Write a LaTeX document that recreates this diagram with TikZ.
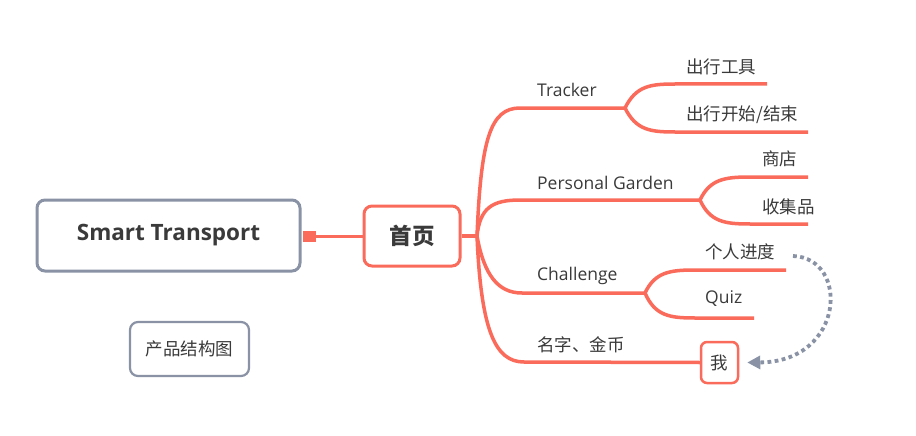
\documentclass[tikz,border=0pt]{standalone}
\usepackage{fontspec}
\setmainfont{Open Sans}
\newfontfamily\cjk{Noto Sans CJK SC}
\usetikzlibrary{arrows.meta}
\definecolor{br}{HTML}{FA6B5B}
\definecolor{gr}{HTML}{8A93A5}
\definecolor{tx}{HTML}{3A3A3A}
\begin{document}
\begin{tikzpicture}[x=1pt,y=-1pt,
  rbox/.style={draw=#1, line width=3, rounded corners=8, fill=white, inner sep=0, text=tx},
  lbl/.style={anchor=west, inner sep=0, text=tx, font=\fontsize{17.5}{20}\selectfont},
  clbl/.style={anchor=west, inner sep=0, text=tx, font=\cjk\fontsize{17.5}{20}\selectfont},
  branch/.style={draw=br, line width=3.5},
  link/.style={draw=gr, line width=3.8, dash pattern=on 3.8pt off 3.4pt, -{Triangle[length=13,width=13]}}]
\path[use as bounding box, fill=white] (0,0) rectangle (916,436);

% main nodes
\node[rbox=gr, minimum width=263, minimum height=71, font=\bfseries\fontsize{22.5}{26}\selectfont] (root) at (168.5,235.5) {Smart Transport};
\node[fill=br, minimum width=13, minimum height=11, inner sep=0] (sq) at (309,236) {};
\node[rbox=br, minimum width=96, minimum height=60, font=\cjk\bfseries\fontsize{22.5}{26}\selectfont] (home) at (412,236) {首页};
\node[rbox=gr, line width=2.2, minimum width=119, minimum height=54, font=\cjk\fontsize{17.5}{20}\selectfont] (legend) at (189.5,349) {产品结构图};
\node[rbox=br, line width=2.5, minimum width=37, minimum height=41, rounded corners=6, font=\cjk\fontsize{17.5}{20}\selectfont] (wo) at (719.5,362.5) {我};

\draw[draw=br, line width=3] (sq.east) -- (home.west);

% junctions
\coordinate (j) at (477,236);
\draw[branch] (home.east) -- (j);

% Tracker
\coordinate (t0) at (520,108);
\coordinate (t1) at (625,108);
\coordinate (t1a) at (675,84);
\coordinate (t1ae) at (767,84);
\coordinate (t1b) at (675,132);
\coordinate (t1be) at (808,132);
\draw[branch] (j) .. controls (481,140) and (490,108) .. (t0) -- (t1);
\draw[branch] (t1) .. controls (636,86) and (650,84) .. (t1a) -- (t1ae);
\draw[branch] (t1) .. controls (636,130) and (650,132) .. (t1b) -- (t1be);
\node[lbl] (ltracker) at (537,90) {Tracker};
\node[clbl] (l11) at (686,67) {出行工具};
\node[clbl] (l12) at (686,115) {出行开始/结束};

% Personal Garden
\coordinate (p0) at (520,200);
\coordinate (p1) at (700,200);
\coordinate (p1a) at (750,177);
\coordinate (p1ae) at (808,177);
\coordinate (p1b) at (750,224);
\coordinate (p1be) at (808,224);
\draw[branch] (j) .. controls (480,208) and (492,200) .. (p0) -- (p1);
\draw[branch] (p1) .. controls (710,179) and (725,177) .. (p1a) -- (p1ae);
\draw[branch] (p1) .. controls (710,222) and (725,224) .. (p1b) -- (p1be);
\node[lbl] (lpg) at (537,183) {Personal Garden};
\node[clbl] (l21) at (762,159) {商店};
\node[clbl] (l22) at (762,207) {收集品};

% Challenge
\coordinate (c0) at (522,293);
\coordinate (c1) at (645,293);
\coordinate (c1a) at (695,270);
\coordinate (c1ae) at (786,270);
\coordinate (c1b) at (695,318);
\coordinate (c1be) at (754,318);
\draw[branch] (j) .. controls (484,275) and (498,293) .. (c0) -- (c1);
\draw[branch] (c1) .. controls (655,272) and (670,270) .. (c1a) -- (c1ae);
\draw[branch] (c1) .. controls (655,316) and (670,318) .. (c1b) -- (c1be);
\node[lbl] (lch) at (537,276) {Challenge};
\node[clbl] (l31) at (705,252) {个人进度};
\node[lbl] (l32) at (705,299) {Quiz};

% Me
\coordinate (m0) at (524,362);
\draw[branch] (j) .. controls (481,330) and (495,362) .. (m0) -- (wo.west);
\node[clbl] (lme) at (537,345) {名字、金币};

% dotted relation
\coordinate (rs) at (793,256);
\draw[link] (rs) .. controls (850,258) and (845,362) .. ([xshift=8]wo.east);
\end{tikzpicture}
\end{document}
